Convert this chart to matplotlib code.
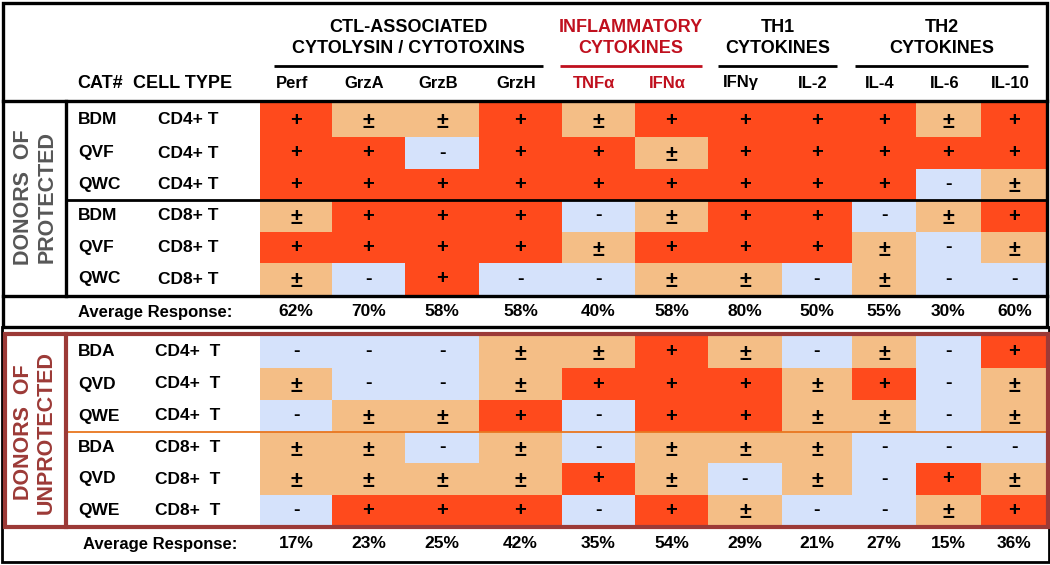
import matplotlib
matplotlib.use("Agg")
import matplotlib.pyplot as plt
from matplotlib.colors import ListedColormap
from matplotlib.patches import Rectangle
import numpy as np

plt.rcParams["font.family"] = ["Liberation Sans", "DejaVu Sans"]
plt.rcParams["font.weight"] = "bold"

# --- data ---
markers = ["Perf", "GrzA", "GrzB", "GrzH", "TNF\u03b1", "IFN\u03b1",
           "IFN\u03b3", "IL-2", "IL-4", "IL-6", "IL-10"]
groups = ["CTL-ASSOCIATED\nCYTOLYSIN / CYTOTOXINS", "INFLAMMATORY\nCYTOKINES",
          "TH1\nCYTOKINES", "TH2\nCYTOKINES"]
group_red = [False, True, False, False]

prot_cat = ["BDM", "QVF", "QWC", "BDM", "QVF", "QWC"]
prot_type = ["CD4+ T", "CD4+ T", "CD4+ T", "CD8+ T", "CD8+ T", "CD8+ T"]
prot_calls = [
    "+ ± ± + ± + + + + ± +",
    "+ + - + + ± + + + + +",
    "+ + + + + + + + + - ±",
    "± + + + - ± + + - ± +",
    "+ + + + ± + + + ± - ±",
    "± - + - - ± ± - ± - -",
]
prot_avg = [62, 70, 58, 58, 40, 58, 80, 50, 55, 30, 60]

unprot_cat = ["BDA", "QVD", "QWE", "BDA", "QVD", "QWE"]
unprot_type = ["CD4+  T", "CD4+  T", "CD4+  T", "CD8+  T", "CD8+  T", "CD8+  T"]
unprot_calls = [
    "- - - ± ± + ± - ± - +",
    "± - - ± + + + ± + - ±",
    "- ± ± + - + + ± ± - ±",
    "± ± - ± - ± ± ± - - -",
    "± ± ± ± + ± - ± - + ±",
    "- + + + - + ± - - ± +",
]
unprot_avg = [17, 23, 25, 42, 35, 54, 29, 21, 27, 15, 36]

# --- layout (pixel coordinates) ---
col_edges = [260, 332, 405, 479, 562, 635, 708, 782, 852, 916, 981, 1048]
prot_rows = [103, 137, 169, 200, 232, 263, 295]
unprot_rows = [335, 368, 400, 432, 463, 495, 526]
rules = [(274, 543), (560, 702), (718, 837), (855, 1028)]

code = {"-": 0, "±": 1, "+": 2}
sym_size = {"-": 14, "±": 15.5, "+": 14.5}
sym_dy = {"-": 0, "±": 2.5, "+": 0}
cmap = ListedColormap(["#d5e2fb", "#f4be86", "#ff4a1c"])
RED = "#c0101e"
MAROON = "#9c3a37"

fig = plt.figure(figsize=(10.5, 5.65), dpi=100)
ax = fig.add_axes([0, 0, 1, 1])
ax.set_xlim(0, 1050)
ax.set_ylim(565, 0)
ax.axis("off")

xc = [(a + b) / 2 for a, b in zip(col_edges[:-1], col_edges[1:])]


def block(rows, cats, types, calls, avg, avg_y, avg_x):
    z = np.array([[code[s] for s in r.split()] for r in calls])
    ax.pcolormesh(col_edges, rows, z, cmap=cmap, vmin=0, vmax=2, zorder=1)
    for i, r in enumerate(calls):
        yc = (rows[i] + rows[i + 1]) / 2
        ax.text(78, yc, cats[i], fontsize=12.5, ha="left", va="center")
        ax.text(188, yc, types[i], fontsize=12.5, ha="center", va="center")
        for j, s in enumerate(r.split()):
            ax.text(xc[j], yc + sym_dy[s], s, fontsize=sym_size[s],
                    ha="center", va="center", zorder=3)
    ax.text(avg_x, avg_y, "Average Response:", fontsize=12, ha="left", va="center")
    for j, v in enumerate(avg):
        ax.text(xc[j], avg_y, f"{v}%", fontsize=12.5, ha="center", va="center")


block(prot_rows, prot_cat, prot_type, prot_calls, prot_avg, 312, 78)
block(unprot_rows, unprot_cat, unprot_type, unprot_calls, unprot_avg, 544, 83)

# header
for k, (g, (x0, x1)) in enumerate(zip(groups, rules)):
    c = RED if group_red[k] else "black"
    ax.text((x0 + x1) / 2, 38, g, fontsize=13, ha="center", va="center",
            color=c, linespacing=1.25)
    ax.plot([x0, x1], [66, 66], color=c, lw=2, solid_capstyle="butt")
for j, m in enumerate(markers):
    c = RED if j in (4, 5) else "black"
    ax.text(xc[j] - 4, 83, m, fontsize=12, ha="center", va="center", color=c)
ax.text(77, 83, "CAT#", fontsize=13, ha="left", va="center")
ax.text(133, 83, "CELL TYPE", fontsize=13, ha="left", va="center")

# side labels
ax.text(35, 197, "DONORS  OF\nPROTECTED", rotation=90, fontsize=15.5,
        ha="center", va="center", color="#575757", linespacing=1.15)
ax.text(35, 432, "DONORS  OF\nUNPROTECTED", rotation=90, fontsize=15.5,
        ha="center", va="center", color=MAROON, linespacing=1.15)

# frames
ax.add_patch(Rectangle((3, 3), 1044, 324, fill=False, lw=2.4, ec="black", zorder=4))
ax.plot([3, 1047], [101, 101], color="black", lw=2.4, zorder=4)
ax.plot([66, 66], [101, 296], color="black", lw=2.4, zorder=4)
ax.plot([66, 1047], [200, 200], color="black", lw=2, zorder=4)
ax.plot([3, 1047], [296, 296], color="black", lw=2.4, zorder=4)

ax.add_patch(Rectangle((1.5, 327), 1047, 235, fill=False, lw=2, ec="black", zorder=4))
ax.add_patch(Rectangle((4.5, 334), 1043.5, 193, fill=False, lw=3, ec=MAROON, zorder=5))
ax.plot([66, 66], [334, 527], color=MAROON, lw=3, zorder=5)
ax.plot([66, 1047], [432, 432], color="#e8761f", lw=1.3, zorder=4)

fig.savefig("out.png", dpi=100, facecolor="white")
